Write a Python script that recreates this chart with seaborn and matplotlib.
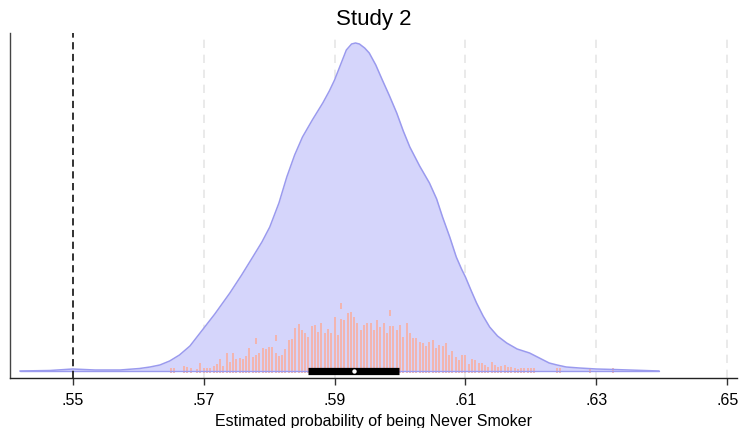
import numpy as np
import pandas as pd
import matplotlib
matplotlib.use("Agg")
import matplotlib.pyplot as plt
import seaborn as sns

# ---------------- data ----------------
title = "Study 2"
xlabel = "Estimated probability of being Never Smoker"
tick_vals = [0.55, 0.57, 0.59, 0.61, 0.63, 0.65]
tick_labels = [".55", ".57", ".59", ".61", ".63", ".65"]
ref_line = 0.55

# density curve (relative height units)
dens_x = [0.5419, 0.5465, 0.5500, 0.5534, 0.5572, 0.5602, 0.5618, 0.5633,
          0.5648, 0.5663, 0.5679, 0.5698, 0.5717, 0.5740, 0.5758, 0.5775,
          0.5789, 0.5801, 0.5815, 0.5827, 0.5839, 0.5851, 0.5866, 0.5882,
          0.5892, 0.5900, 0.5909, 0.5918, 0.5926, 0.5932, 0.5938, 0.5946,
          0.5953, 0.5963, 0.5973, 0.5984, 0.5995, 0.6005, 0.6015, 0.6030,
          0.6045, 0.6056, 0.6065, 0.6076, 0.6086, 0.6094, 0.6100, 0.6109,
          0.6117, 0.6127, 0.6137, 0.6149, 0.6163, 0.6179, 0.6198, 0.6213,
          0.6228, 0.6240, 0.6254, 0.6274, 0.6300, 0.6327, 0.6350, 0.6373,
          0.6396]
dens_y = [0, 0.5, 2, 1, 1, 2.5, 4, 6,
          10, 16, 25, 41, 57, 78, 96, 114,
          129, 144, 168, 194, 216, 234, 251, 268,
          280, 291, 306, 321, 327, 328, 327, 323,
          318, 306, 291, 275, 258, 240, 224, 205,
          188, 172, 154, 134, 114, 102, 94, 80,
          68, 55, 44, 35, 28, 22, 18, 13,
          8, 6, 4, 3, 2, 1.5, 1, 0.5,
          0]

# stacked sample marks: bin centres and heights
pink_x = [0.5650, 0.5655, 0.5670, 0.5675, 0.5680, 0.5690, 0.5695, 0.5700,
          0.5705, 0.5710, 0.5715, 0.5720, 0.5725, 0.5730, 0.5735, 0.5740,
          0.5745, 0.5750, 0.5755, 0.5760, 0.5765, 0.5770, 0.5775, 0.5780,
          0.5785, 0.5790, 0.5795, 0.5800, 0.5805, 0.5810, 0.5815, 0.5820,
          0.5825, 0.5830, 0.5835, 0.5840, 0.5845, 0.5850, 0.5855, 0.5860,
          0.5865, 0.5870, 0.5875, 0.5880, 0.5885, 0.5890, 0.5895, 0.5900,
          0.5905, 0.5910, 0.5915, 0.5920, 0.5925, 0.5930, 0.5935, 0.5940,
          0.5945, 0.5950, 0.5955, 0.5960, 0.5965, 0.5970, 0.5975, 0.5980,
          0.5985, 0.5990, 0.5995, 0.6000, 0.6005, 0.6010, 0.6015, 0.6020,
          0.6025, 0.6030, 0.6035, 0.6040, 0.6045, 0.6050, 0.6055, 0.6060,
          0.6065, 0.6070, 0.6075, 0.6080, 0.6085, 0.6090, 0.6095, 0.6100,
          0.6105, 0.6110, 0.6115, 0.6120, 0.6125, 0.6130, 0.6135, 0.6140,
          0.6145, 0.6150, 0.6155, 0.6160, 0.6165, 0.6170, 0.6175, 0.6180,
          0.6185, 0.6190, 0.6195, 0.6200, 0.6205, 0.6240, 0.6245, 0.6290,
          0.6325]
pink_h = [3, 3, 5, 4, 3, 2, 8, 3,
          3, 3, 5, 7, 12, 5, 18, 9,
          18, 12, 13, 12, 15, 23, 14, 16,
          18, 23, 22, 24, 24, 18, 15, 16,
          22, 31, 32, 43, 47, 41, 38, 34,
          45, 46, 39, 48, 38, 42, 38, 54,
          36, 52, 51, 58, 59, 54, 48, 41,
          46, 48, 48, 41, 51, 44, 48, 38,
          45, 45, 41, 46, 34, 48, 38, 33,
          33, 29, 28, 25, 29, 31, 23, 26,
          25, 28, 16, 20, 14, 11, 16, 16,
          7, 12, 11, 8, 8, 6, 4, 9,
          6, 4, 5, 6, 4, 4, 3, 2,
          3, 3, 3, 3, 3, 3, 3, 3,
          3]
# isolated marks sitting above a gap
float_x = [0.5780, 0.5810, 0.5910, 0.5985]
float_lo = [27, 30, 62, 55]
float_hi = [33, 36, 68, 61]

# summary: interquartile range and median
q1, med, q3 = 0.5860, 0.5930, 0.5999

# ---------------- styling ----------------
sns.set_theme(style="white")
plt.rcParams['font.family'] = ['Liberation Sans', 'DejaVu Sans']
plt.rcParams['text.color'] = 'black'
plt.rcParams['axes.labelcolor'] = 'black'
plt.rcParams['xtick.color'] = 'black'

fill_col = "#d5d5fb"
edge_col = "#9a9aee"
pink_col = "#f6b2a8"

fig = plt.figure(figsize=(7.4, 4.28), dpi=100)
ax = fig.add_axes([10/740, 50/428, 727/740, 345/428])

# grid lines
for t in tick_vals[1:]:
    ax.axvline(t, color="#e6e6e6", lw=1.2, ls=(0, (5, 4)), zorder=0)

# density
ax.fill_between(dens_x, dens_y, 0, color=fill_col, lw=0, zorder=1)

# sample marks
ax.vlines(pink_x, -2, pink_h, color=pink_col, lw=1.3, zorder=2)
ax.vlines(float_x, float_lo, float_hi, color=pink_col, lw=1.3, zorder=2)

# density outline
sns.lineplot(x=dens_x, y=dens_y, color=edge_col, lw=1.1, ax=ax, zorder=3,
             sort=False, estimator=None)
ax.plot([dens_x[0], dens_x[-1]], [0, 0], color=edge_col, lw=1.0, zorder=3)

# box (IQR) and median
ax.plot([q1, q3], [0, 0], color="black", lw=5.2, solid_capstyle="butt", zorder=4)
ax.scatter([med], [0], s=10, color="white", zorder=5, linewidths=0)

# reference line
ax.axvline(ref_line, color="#222222", lw=1.3, ls=(0, (4, 2.5)), zorder=6)

ax.set_xlim(0.5404, 0.6515)
ax.set_ylim(-7, 338)
ax.set_xticks(tick_vals)
ax.set_xticklabels(tick_labels, fontsize=11.5)
ax.set_yticks([])
ax.tick_params(axis="x", direction="out", length=5, width=1, color="#333333",
               pad=6, bottom=True)
ax.set_xlabel(xlabel, fontsize=11.5, labelpad=4)
ax.set_ylabel("")
ax.set_title(title, fontsize=16, pad=6, color="black")

for s in ["top", "right"]:
    ax.spines[s].set_visible(False)
ax.spines["left"].set_color("#444444")
ax.spines["bottom"].set_color("#222222")
ax.spines["left"].set_linewidth(1.0)
ax.spines["bottom"].set_linewidth(1.0)

fig.savefig("out.png", dpi=100)
